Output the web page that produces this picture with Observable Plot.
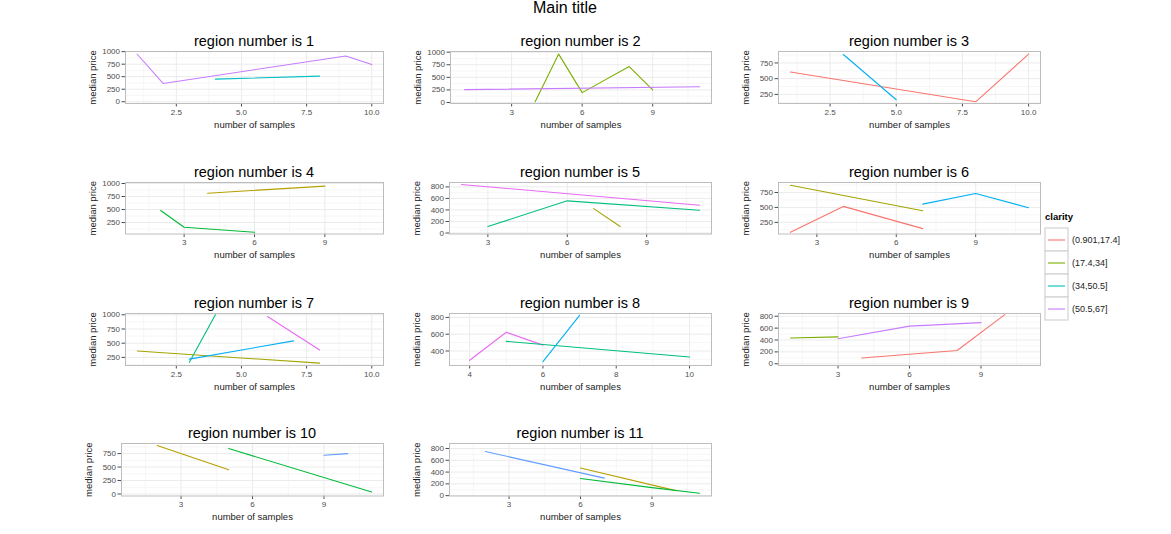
<!DOCTYPE html>
<html><head><meta charset="utf-8">
<script src="https://cdn.jsdelivr.net/npm/d3@7"></script>
<script src="https://cdn.jsdelivr.net/npm/@observablehq/plot@0.6"></script>
<style>
body{margin:0;background:#fff;font-family:"Liberation Sans", Arial, sans-serif;}
#root{position:relative;width:1171px;height:534px;overflow:hidden;background:#fff;}
.ttl{position:absolute;white-space:nowrap;transform:translateX(-50%);line-height:1;color:#000;}
.abs{position:absolute;}
</style></head><body><div id="root"></div>
<script>
// ---------- data ----------
const mainTitle = "Main title";
const xLabel = "number of samples";
const yLabel = "median price";
const legendTitle = "clarity";
const clarityLevels = ["(0.901,17.4]", "(17.4,34]", "(34,50.5]", "(50.5,67]"];
const clarityColors = ["#F8766D", "#7CAE00", "#00BFC4", "#C77CFF"];

const region1 = [
  {color: "#C77CFF", x: [1, 2, 9, 10], y: [948, 364, 914, 742]},
  {color: "#00BFC4", x: [4, 8], y: [451, 511]}
];
const region2 = [
  {color: "#7CAE00", x: [4, 5, 6, 8, 9], y: [14, 961, 196, 714, 249]},
  {color: "#C77CFF", x: [1, 11], y: [255, 314]}
];
const region3 = [
  {color: "#F8766D", x: [1, 8, 10], y: [606, 132, 890]},
  {color: "#00B0F6", x: [3, 5], y: [884, 165]}
];
const region4 = [
  {color: "#B79F00", x: [4, 9], y: [814, 950]},
  {color: "#00BA38", x: [2, 3, 6], y: [481, 159, 63]}
];
const region5 = [
  {color: "#E76BF3", x: [2, 11], y: [842, 482]},
  {color: "#00BF7D", x: [3, 6, 11], y: [113, 558, 395]},
  {color: "#A3A500", x: [7, 8], y: [423, 113]}
];
const region6 = [
  {color: "#A3A500", x: [2, 7], y: [872, 445]},
  {color: "#F8766D", x: [2, 4, 7], y: [83, 517, 145]},
  {color: "#00B0F6", x: [7, 9, 11], y: [555, 733, 495]}
];
const region7 = [
  {color: "#A3A500", x: [1, 8], y: [362, 148]},
  {color: "#00BF7D", x: [3, 4], y: [166, 1000]},
  {color: "#00B0F6", x: [3, 7], y: [220, 541]},
  {color: "#E76BF3", x: [6, 8], y: [970, 380]}
];
const region8 = [
  {color: "#E76BF3", x: [4, 5, 6], y: [289, 623, 470]},
  {color: "#00BF7D", x: [5, 10], y: [515, 329]},
  {color: "#00B0F6", x: [6, 7], y: [274, 824]}
];
const region9 = [
  {color: "#7CAE00", x: [1, 3], y: [434, 452]},
  {color: "#C77CFF", x: [3, 6, 9], y: [422, 634, 693]},
  {color: "#F8766D", x: [4, 8, 10], y: [97, 224, 828]}
];
const region10 = [
  {color: "#B79F00", x: [2, 5], y: [899, 450]},
  {color: "#00BA38", x: [5, 11], y: [843, 37]},
  {color: "#619CFF", x: [9, 10], y: [720, 750]}
];
const region11 = [
  {color: "#619CFF", x: [2, 7], y: [749, 297]},
  {color: "#B79F00", x: [6, 10], y: [468, 85]},
  {color: "#00BA38", x: [6, 9, 11], y: [290, 136, 41]}
];

const ticks25 = [2.5, 5, 7.5, 10];
const ticks369 = [3, 6, 9];
const ticks4to10 = [4, 6, 8, 10];
const yT1000 = [0, 250, 500, 750, 1000];
const yT750 = [250, 500, 750];
const yT1000b = [250, 500, 750, 1000];
const yT800 = [0, 200, 400, 600, 800];
const yT800b = [400, 600, 800];

// ---------- layout ----------
const panels = [
  {title: "region number is 1", data: region1, xd: [0.55, 10.45], xt: ticks25, xf: d3.format(".1f"), yd: [-35, 1003], yt: yT1000, box: [125, 383, 50.5, 102.5]},
  {title: "region number is 2", data: region2, xd: [0.4, 11.5], xt: ticks369, yd: [-20, 1013], yt: yT1000, box: [450, 711, 50.5, 102.5]},
  {title: "region number is 3", data: region3, xd: [0.55, 10.45], xt: ticks25, xf: d3.format(".1f"), yd: [105, 932], yt: yT750, box: [778, 1040, 50.5, 102.5]},
  {title: "region number is 4", data: region4, xd: [0.5, 11.5], xt: ticks369, yd: [30, 1019], yt: yT1000b, box: [125, 383, 181.5, 233]},
  {title: "region number is 5", data: region5, xd: [1.55, 11.45], xt: ticks369, yd: [-17, 876], yt: yT800, box: [449, 711, 181.5, 233]},
  {title: "region number is 6", data: region6, xd: [1.55, 11.45], xt: ticks369, yd: [55, 917], yt: yT750, box: [778, 1040, 181.5, 233]},
  {title: "region number is 7", data: region7, xd: [0.55, 10.45], xt: ticks25, xf: d3.format(".1f"), yd: [107, 1023], yt: yT1000b, box: [125, 383, 312.5, 364.5]},
  {title: "region number is 8", data: region8, xd: [3.45, 10.6], xt: ticks4to10, yd: [227, 847], yt: yT800b, box: [449, 711, 312.5, 364.5]},
  {title: "region number is 9", data: region9, xd: [0.5, 11.5], xt: ticks369, yd: [-29, 846], yt: yT800, box: [778, 1040, 312.5, 364.5]},
  {title: "region number is 10", data: region10, xd: [0.5, 11.5], xt: ticks369, yd: [-37, 937], yt: yT1000.slice(0, 4), box: [121, 383, 442.5, 495]},
  {title: "region number is 11", data: region11, xd: [0.5, 11.5], xt: ticks369, yd: [-6, 885], yt: yT800, box: [449, 711, 442.5, 495]}
];

const root = document.getElementById("root");
const FONT = '"Liberation Sans", Arial, sans-serif';

function minors(t, dom) {
  const step = t[1] - t[0];
  const ext = [t[0] - step, ...t, t[t.length - 1] + step];
  const out = [];
  for (let i = 0; i < ext.length - 1; i++) {
    const m = (ext[i] + ext[i + 1]) / 2;
    if (m > Math.min(...dom) && m < Math.max(...dom)) out.push(m);
  }
  return out;
}

const mt = document.createElement("div");
mt.className = "ttl"; mt.textContent = mainTitle;
mt.style.left = "565px"; mt.style.top = "0px"; mt.style.fontSize = "16px";
root.appendChild(mt);

const ML = 50, MR = 4, MT = 2, MB = 34;
for (const p of panels) {
  const [L, R, T, B] = p.box;
  const svg = Plot.plot({
    width: R - L + ML + MR, height: B - T + MT + MB,
    marginLeft: ML, marginRight: MR, marginTop: MT, marginBottom: MB,
    style: {fontFamily: FONT, fontSize: "8px", color: "#4d4d4d", background: "transparent", overflow: "visible"},
    x: {domain: p.xd, ticks: p.xt, tickFormat: p.xf || (d => String(d)), tickSize: 3.5, tickPadding: 2,
        label: xLabel, labelAnchor: "center", labelOffset: 24, labelArrow: "none"},
    y: {domain: p.yd, ticks: p.yt, tickFormat: d => String(d), tickSize: 3.5, tickPadding: 2,
        label: yLabel, labelAnchor: "center", labelOffset: 36, labelArrow: "none"},
    marks: [
      Plot.ruleX(minors(p.xt, p.xd), {stroke: "#f6f6f6"}),
      Plot.ruleY(minors(p.yt, p.yd), {stroke: "#f6f6f6"}),
      Plot.ruleX(p.xt, {stroke: "#ebebeb"}),
      Plot.ruleY(p.yt, {stroke: "#ebebeb"}),
      ...p.data.map(s => Plot.line(s.x.map((x, i) => ({x, y: s.y[i]})), {x: "x", y: "y", stroke: s.color, strokeWidth: 1.1})),
      Plot.frame({stroke: "#bdbdbd"})
    ]
  });
  d3.select(svg).selectAll('[aria-label$="axis label"]').attr("font-size", "9.5px").attr("fill", "#222");
  svg.style.position = "absolute";
  svg.style.left = (L - ML) + "px";
  svg.style.top = (T - MT) + "px";
  root.appendChild(svg);

  const t = document.createElement("div");
  t.className = "ttl"; t.textContent = p.title;
  t.style.left = ((L + R) / 2) + "px"; t.style.top = (T - 17) + "px"; t.style.fontSize = "14.5px";
  root.appendChild(t);
}

// ---------- legend ----------
const lt = document.createElement("div");
lt.className = "abs"; lt.textContent = legendTitle;
lt.style.left = "1045px"; lt.style.top = "212px"; lt.style.fontSize = "9.5px"; lt.style.fontWeight = "bold"; lt.style.lineHeight = "1";
root.appendChild(lt);

const leg = Plot.plot({
  width: 130, height: 94, marginLeft: 0, marginRight: 107, marginTop: 0, marginBottom: 0,
  style: {fontFamily: FONT, fontSize: "9px", color: "#222", background: "transparent", overflow: "visible"},
  x: {type: "band", domain: ["k"], axis: null, padding: 0},
  y: {type: "band", domain: clarityLevels, axis: null, padding: 0},
  color: {domain: clarityLevels, range: clarityColors},
  marks: [
    Plot.cell(clarityLevels, {x: () => "k", y: d => d, fill: "white", stroke: "#d3d3d3", strokeWidth: 1.2}),
    Plot.tickY(clarityLevels, {x: () => "k", y: d => d, stroke: d => d, insetLeft: 3, insetRight: 3, strokeWidth: 1.1}),
    Plot.text(clarityLevels, {x: () => "k", y: d => d, text: d => d, textAnchor: "start", dx: 15, fill: "#222"})
  ]
});
leg.style.position = "absolute"; leg.style.left = "1045px"; leg.style.top = "227px";
root.appendChild(leg);
</script></body></html>
